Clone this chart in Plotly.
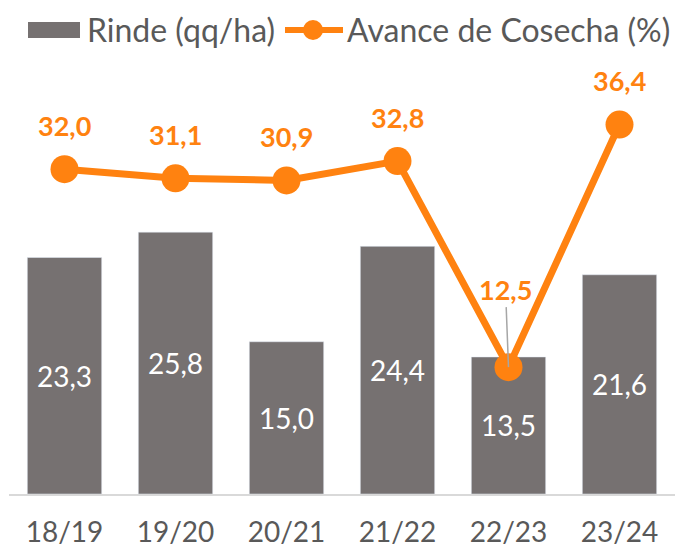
import plotly.graph_objects as go

campaigns = ["18/19", "19/20", "20/21", "21/22", "22/23", "23/24"]
rinde = [23.3, 25.8, 15.0, 24.4, 13.5, 21.6]
avance = [32.0, 31.1, 30.9, 32.8, 12.5, 36.4]
series_names = ["Rinde (qq/ha)", "Avance de Cosecha (%)"]

BAR_COLOR = "#767171"
LINE_COLOR = "#FF8210"
TEXT_GRAY = "#595959"
FONT = "Lato"

# plot-area pixel geometry (for legend placement in paper coords)
L, R, T, B = 9, 675, 60, 494
def px(x):
    return (x - L) / (R - L)
def py(y):
    return (B - y) / (B - T)

fig = go.Figure()
fig.add_trace(go.Bar(
    x=campaigns, y=rinde, name=series_names[0],
    marker_color=BAR_COLOR,
    texttemplate="%{y:.1f}", textposition="inside", insidetextanchor="middle",
    textfont=dict(color="white", size=28, family=FONT),
))
fig.add_trace(go.Scatter(
    x=campaigns, y=avance, name=series_names[1],
    mode="lines+markers",
    line=dict(color=LINE_COLOR, width=7),
    marker=dict(color=LINE_COLOR, size=28),
))

for i, (c, v) in enumerate(zip(campaigns, avance)):
    label = f"{v:.1f}".replace(".", ",")
    if i == 4:
        fig.add_annotation(
            x=c, y=v, text=f"<b>{label}</b>", showarrow=True,
            arrowhead=0, arrowwidth=1.5, arrowcolor="#A6A6A6",
            ax=-3, ay=-78, standoff=0,
            font=dict(color=LINE_COLOR, size=27, family=FONT),
        )
    else:
        fig.add_annotation(
            x=c, y=v, text=f"<b>{label}</b>", showarrow=False,
            yshift=44,
            font=dict(color=LINE_COLOR, size=27, family=FONT),
        )

# custom legend
ly = py(30)
fig.add_shape(type="rect", xref="paper", yref="paper",
              x0=px(28), x1=px(80), y0=py(38), y1=py(22),
              fillcolor=BAR_COLOR, line_width=0)
fig.add_annotation(xref="paper", yref="paper", x=px(85), y=ly,
                   xanchor="left", yanchor="middle", showarrow=False,
                   text=series_names[0],
                   font=dict(size=32, color=TEXT_GRAY, family=FONT))
fig.add_shape(type="line", xref="paper", yref="paper",
              x0=px(285), x1=px(343), y0=ly, y1=ly,
              line=dict(color=LINE_COLOR, width=6))
fig.add_shape(type="circle", xref="paper", yref="paper",
              x0=px(303), x1=px(323), y0=py(40), y1=py(20),
              fillcolor=LINE_COLOR, line_width=0)
fig.add_annotation(xref="paper", yref="paper", x=px(345), y=ly,
                   xanchor="left", yanchor="middle", showarrow=False,
                   text=series_names[1],
                   font=dict(size=32, color=TEXT_GRAY, family=FONT))

fig.update_layout(
    width=675, height=550,
    margin=dict(l=L, r=675 - R, t=T, b=550 - B, autoexpand=False),
    plot_bgcolor="white", paper_bgcolor="white",
    separators=",.",
    bargap=0.33,
    showlegend=False,
    font=dict(family=FONT, color=TEXT_GRAY),
    xaxis=dict(showline=True, linecolor="#D9D9D9", linewidth=1.5,
               tickfont=dict(size=28, color=TEXT_GRAY, family=FONT),
               ticklabelstandoff=13, showgrid=False, automargin=False),
    yaxis=dict(range=[0, 42.76], visible=False, showgrid=False, zeroline=False,
               automargin=False),
)

fig.write_html("out.html")
